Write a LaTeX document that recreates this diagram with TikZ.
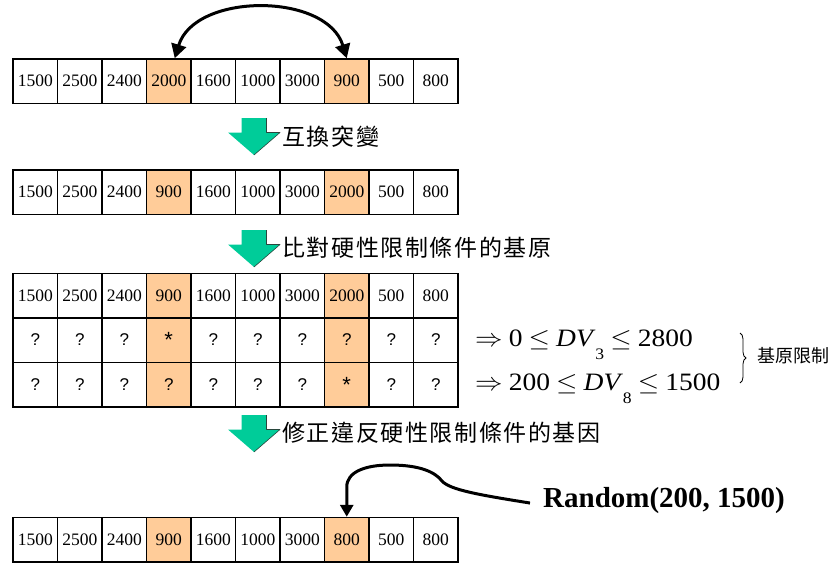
\RequirePackage{fix-cm}
\documentclass[tikz,border=0pt]{standalone}
\usepackage{fontspec}
\setmainfont{Liberation Serif}
\setsansfont{Liberation Sans}
\newfontfamily\cjkfont{Noto Sans CJK TC}
\newfontfamily\cjkwide{Noto Sans CJK TC}[LetterSpace=7]
\usetikzlibrary{arrows.meta,decorations.pathreplacing}
\definecolor{geneorange}{RGB}{255,204,153}
\definecolor{arrowgreen}{RGB}{0,204,153}
\definecolor{arrowedge}{RGB}{40,70,60}

% lowered subscript used in the bounds
\newcommand{\lowsub}[1]{\raisebox{-13pt}{\fontsize{16}{16}\selectfont #1}}
% a bound, set slightly wide
\newcommand{\widebound}[1]{\scalebox{1.1}[1]{#1}}
% the marked gene in a check row
\newcommand{\genemark}{\raisebox{-3pt}{\fontsize{22}{22}\selectfont *}}

\tikzset{
  cell/.style={draw, line width=1.5pt, minimum width=44.5pt, minimum height=44.5pt,
    inner sep=0pt, font=\fontsize{17.5}{20}\selectfont},
  hit/.style={cell, fill=geneorange},
  qcell/.style={cell, font=\sffamily\fontsize{17}{20}\selectfont},
  qhit/.style={qcell, fill=geneorange},
  steplabel/.style={anchor=west, inner sep=0pt, font=\cjkwide\fontsize{23}{26}\selectfont},
  bound/.style={anchor=base west, inner sep=0pt, font=\fontsize{25}{28}\selectfont},
  bigarc/.style={line width=3pt, {Triangle[length=14pt,width=15pt]}-{Triangle[length=14pt,width=15pt]}},
  feed/.style={line width=3pt, -{Triangle[length=12pt,width=13pt]}},
  greenarrow/.pic={
    \fill[arrowgreen] (-12.5,0) -- (12.5,0) -- (12.5,14.5) -- (26,14.5) -- (0,37)
      -- (-26,14.5) -- (-12.5,14.5) -- cycle;
    \draw[arrowedge, line width=0.6pt, line join=round] (12.5,0) -- (12.5,14.5) -- (26,14.5) -- (0,37);
  }
}

\begin{document}
\begin{tikzpicture}[x=1pt,y=-1pt]
\useasboundingbox (0,0) rectangle (838,563);

% chromosome before the swap
\foreach \v/\s [count=\i] in {1500/cell,2500/cell,2400/cell,2000/hit,1600/cell,1000/cell,3000/cell,900/hit,500/cell,800/cell}
  \node[\s] (a\i) at ({13+(\i-0.5)*44.5},81.25) {\v};

% swap arrow between genes 4 and 8
\draw[bigarc] ([xshift=6pt]a4.north) .. controls +(20,-66) and +(-20,-66) .. (a8.north);

\pic at (254,118) {greenarrow};
\node[steplabel] (l1) at (282,137) {互換突變};

% chromosome after the swap
\foreach \v/\s [count=\i] in {1500/cell,2500/cell,2400/cell,900/hit,1600/cell,1000/cell,3000/cell,2000/hit,500/cell,800/cell}
  \node[\s] (b\i) at ({13+(\i-0.5)*44.5},192.25) {\v};

\pic at (254,230) {greenarrow};
\node[steplabel] (l2) at (282,248) {比對硬性限制條件的基原};

% constraint check table
\foreach \v/\s [count=\i] in {1500/cell,2500/cell,2400/cell,900/hit,1600/cell,1000/cell,3000/cell,2000/hit,500/cell,800/cell}
  \node[\s] (c\i) at ({13+(\i-0.5)*44.5},295.5) {\v};
\foreach \v/\s [count=\i] in {?/qcell,?/qcell,?/qcell,\genemark/qhit,?/qcell,?/qcell,?/qcell,?/qhit,?/qcell,?/qcell}
  \node[\s] (p\i) at ({13+(\i-0.5)*44.5},340) {\v};
\foreach \v/\s [count=\i] in {?/qcell,?/qcell,?/qcell,?/qhit,?/qcell,?/qcell,?/qcell,\genemark/qhit,?/qcell,?/qcell}
  \node[\s] (q\i) at ({13+(\i-0.5)*44.5},384.5) {\v};

\node[bound] (dv3) at (475,346) {\widebound{$\Rightarrow$\:0\:$\leq$\:\textit{DV}\lowsub{3}\:$\leq$\:2800}};
\node[bound] (dv8) at (475,390) {\widebound{$\Rightarrow$\:200\:$\leq$\:\textit{DV}\lowsub{8}\:$\leq$\:1500}};

\draw[decorate, decoration={brace, amplitude=6pt}, line width=0.8pt] (740,333) -- (740,383);
\node[anchor=west, inner sep=0pt, font=\cjkfont\fontsize{18}{20}\selectfont] (lim) at (757,356) {基原限制};

\pic at (254,415) {greenarrow};
\node[steplabel] (l3) at (282,433) {修正違反硬性限制條件的基因};

% repaired chromosome
\foreach \v/\s [count=\i] in {1500/cell,2500/cell,2400/cell,900/hit,1600/cell,1000/cell,3000/cell,800/hit,500/cell,800/cell}
  \node[\s] (d\i) at ({13+(\i-0.5)*44.5},539.75) {\v};

\node[anchor=base west, inner sep=0pt, font=\bfseries\fontsize{29}{32}\selectfont] (rnd) at (543,507) {Random(200, 1500)};

\draw[feed] ([xshift=-13pt,yshift=-3pt]rnd.west) .. controls (480,495) and (450,490) .. (442,481)
  .. controls (435,472) and (420,465) .. (390,465)
  .. controls (365,465) and (346.75,472) .. (346.75,487) -- (d8.north);
\end{tikzpicture}
\end{document}
